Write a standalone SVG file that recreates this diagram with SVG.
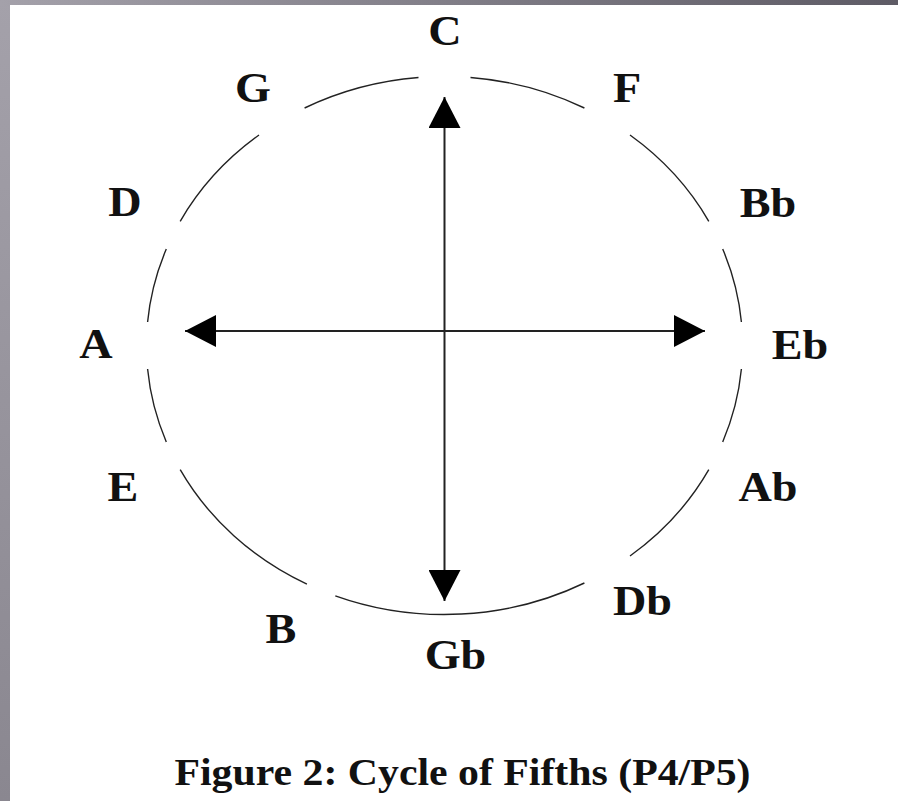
<svg xmlns="http://www.w3.org/2000/svg" width="898" height="801" viewBox="0 0 898 801">
  <defs>
    <linearGradient id="gTop" x1="0" y1="0" x2="1" y2="0">
      <stop offset="0" stop-color="#a4a1aa"/>
      <stop offset="1" stop-color="#5e5b65"/>
    </linearGradient>
    <linearGradient id="gLeft" x1="0" y1="0" x2="0" y2="1">
      <stop offset="0" stop-color="#a4a1aa"/>
      <stop offset="1" stop-color="#8a8790"/>
    </linearGradient>
    <marker id="arrow" viewBox="0 0 31 32" refX="31" refY="16" markerWidth="31" markerHeight="32" markerUnits="userSpaceOnUse" orient="auto-start-reverse">
      <path d="M0,0 L31,16 L0,32 Z" fill="#000"/>
    </marker>
    <style>
      .lbl { font-family: "Liberation Serif", "Times New Roman", serif; font-weight: bold; font-size: 42px; fill: #111; text-anchor: middle; }
      .cap { font-family: "Liberation Serif", "Times New Roman", serif; font-weight: bold; font-size: 38px; fill: #111; text-anchor: middle; }
      .arc { fill: none; stroke: #222; stroke-width: 1.4; }
      .axis { fill: none; stroke: #222; stroke-width: 2; marker-start: url(#arrow); marker-end: url(#arrow); }
    </style>
  </defs>

  <rect x="0" y="0" width="898" height="801" fill="url(#gLeft)"/>
  <rect x="0" y="0" width="898" height="6" fill="url(#gTop)"/>
  <rect x="10" y="5" width="888" height="796" fill="#ffffff"/>

  <g id="connectors">
    <g id="circle">
      <path class="arc" d="M741.4,322.0 A298,269 0 0 0 722.7,249.1"/>
      <path class="arc" d="M708.8,221.3 A298,269 0 0 0 630.0,135.0"/>
      <path class="arc" d="M584.4,108.0 A298,269 0 0 0 470.5,77.5"/>
      <path class="arc" d="M418.5,77.5 A298,269 0 0 0 304.6,108.0"/>
      <path class="arc" d="M259.0,135.0 A298,269 0 0 0 180.2,221.3"/>
      <path class="arc" d="M166.3,249.1 A298,269 0 0 0 147.6,322.0"/>
      <path class="arc" d="M147.6,369.0 A298,269 0 0 0 166.3,441.9"/>
      <path class="arc" d="M180.2,469.7 A298,269 0 0 0 306.9,584.1"/>
      <path class="arc" d="M335.3,595.8 A298,269 0 0 0 584.4,583.0"/>
      <path class="arc" d="M630.0,556.0 A298,269 0 0 0 708.8,469.7"/>
      <path class="arc" d="M722.7,441.9 A298,269 0 0 0 741.4,369.0"/>
    </g>
    <line id="axis-h" class="axis" x1="185" y1="331" x2="705" y2="331"/>
    <line id="axis-v" class="axis" x1="444.5" y1="97" x2="444.5" y2="601"/>
  </g>

  <g id="node-C"><text class="lbl" transform="translate(445,45) scale(1.1,1)">C</text></g>
  <g id="node-G"><text class="lbl" transform="translate(253,102) scale(1.1,1)">G</text></g>
  <g id="node-F"><text class="lbl" transform="translate(627,102) scale(1.1,1)">F</text></g>
  <g id="node-D"><text class="lbl" transform="translate(125,216) scale(1.1,1)">D</text></g>
  <g id="node-Bb"><text class="lbl" transform="translate(768,217) scale(1.1,1)">Bb</text></g>
  <g id="node-A"><text class="lbl" transform="translate(96,358) scale(1.1,1)">A</text></g>
  <g id="node-Eb"><text class="lbl" transform="translate(800,359) scale(1.1,1)">Eb</text></g>
  <g id="node-E"><text class="lbl" transform="translate(123,501) scale(1.1,1)">E</text></g>
  <g id="node-Ab"><text class="lbl" transform="translate(768,501) scale(1.1,1)">Ab</text></g>
  <g id="node-B"><text class="lbl" transform="translate(281,643) scale(1.1,1)">B</text></g>
  <g id="node-Db"><text class="lbl" transform="translate(642.5,615) scale(1.1,1)">Db</text></g>
  <g id="node-Gb"><text class="lbl" transform="translate(455.5,669) scale(1.1,1)">Gb</text></g>

  <g id="caption"><text class="cap" transform="translate(462.5,785) scale(1.1,1)">Figure 2: Cycle of Fifths (P4/P5)</text></g>
</svg>
